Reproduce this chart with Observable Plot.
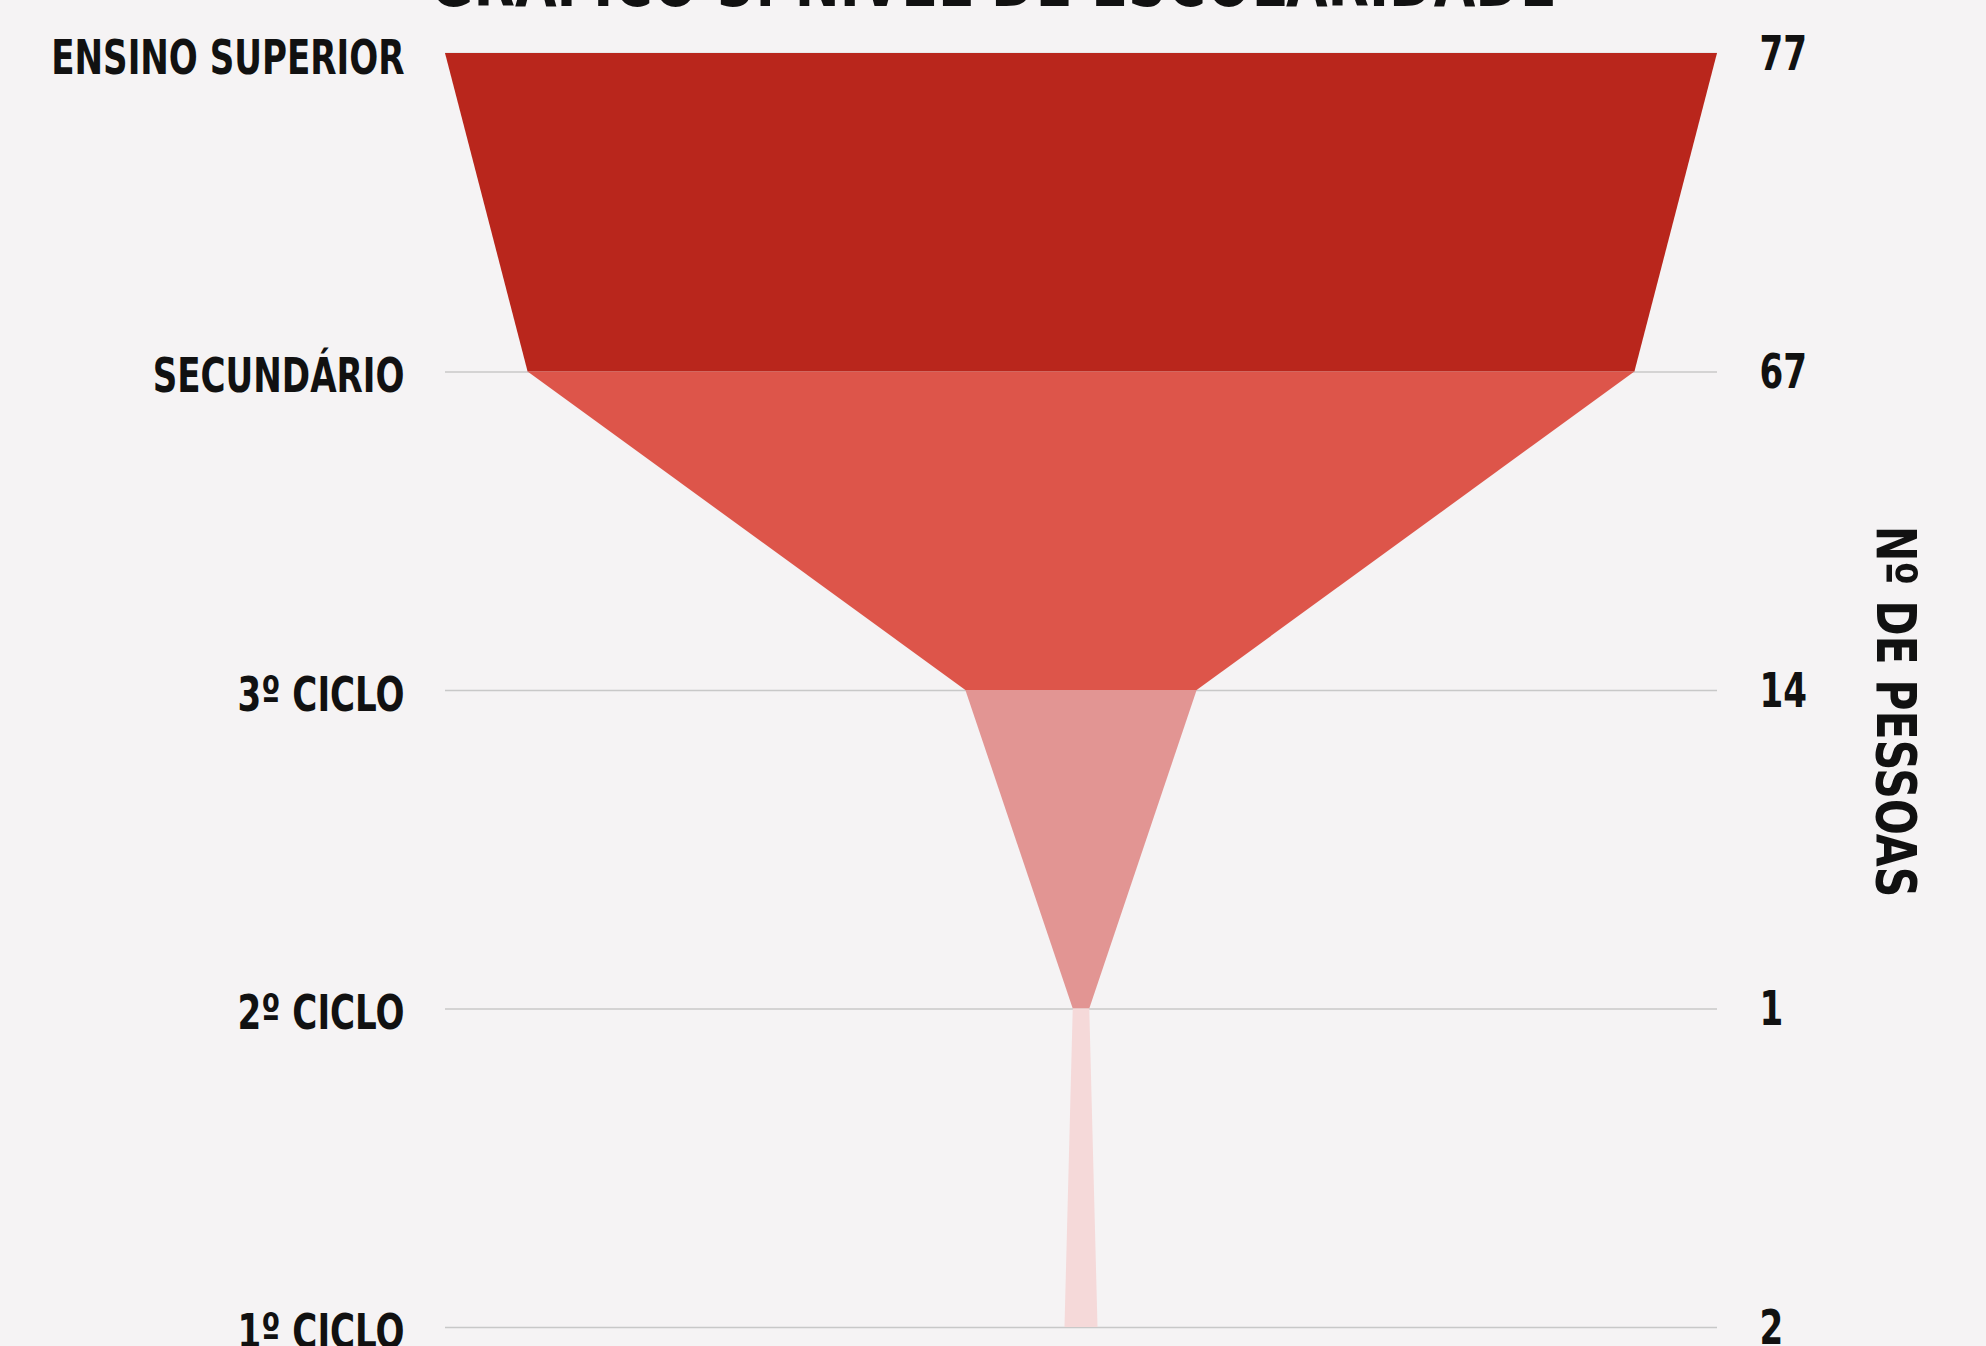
<!DOCTYPE html>
<html>
<head>
<meta charset="utf-8">
<script src="https://cdn.jsdelivr.net/npm/d3@7"></script>
<script src="https://cdn.jsdelivr.net/npm/@observablehq/plot@0.6"></script>
<style>
  html, body { margin: 0; padding: 0; background: #F5F3F4; overflow: hidden; }
  #wrap { position: relative; width: 1986px; height: 1346px; overflow: hidden; }
  #title {
    position: absolute; left: 0; top: -55px; width: 1986px; text-align: center;
    font-family: "DejaVu Sans Condensed", "DejaVu Sans", sans-serif;
    font-weight: bold; font-size: 72px; line-height: 1; color: #111;
  }
  #title span { display: inline-block; transform: scaleX(0.83); transform-origin: center; white-space: nowrap; }
  #chart { position: absolute; left: 0; top: 0; }
</style>
</head>
<body>
<div id="wrap">
  <div id="chart"></div>
  <div id="title"><span>GRÁFICO 3: NÍVEL DE ESCOLARIDADE</span></div>
</div>
<script>
const niveis = ["ENSINO SUPERIOR", "SECUNDÁRIO", "3º CICLO", "2º CICLO", "1º CICLO"];
const pessoas = [77, 67, 14, 1, 2];
const cores = ["#B9261C", "#DD554A", "#E29593", "#F5D9D9"];
const eixoTitulo = "Nº DE PESSOAS";

const idx = niveis.map((_, i) => i);
const segmentos = [];
for (let i = 0; i < niveis.length - 1; i++) {
  segmentos.push({seg: niveis[i], y: i, v: pessoas[i]});
  segmentos.push({seg: niveis[i], y: i + 1, v: pessoas[i + 1]});
}
const maxV = d3.max(pessoas);

const font = '"DejaVu Sans Condensed", "DejaVu Sans", sans-serif';

const chart = Plot.plot({
  width: 1986,
  height: 1380,
  marginTop: 53,
  marginBottom: 53,
  marginLeft: 445,
  marginRight: 269,
  style: {background: "transparent", fontFamily: font, fontSize: "48px", fontWeight: "bold", color: "#111"},
  x: {domain: [-maxV / 2, maxV / 2], axis: null},
  y: {domain: [0, niveis.length - 1], reverse: true, axis: null},
  color: {type: "ordinal", domain: niveis.slice(0, 4), range: cores},
  marks: [
    Plot.ruleY(idx, {y: d => d, stroke: "#C8C8C8", strokeWidth: 1.5}),
    Plot.areaX(segmentos, {
      y: "y",
      x1: d => -d.v / 2,
      x2: d => d.v / 2,
      z: "seg",
      fill: "seg",
      curve: "linear"
    }),
    Plot.axisY({anchor: "left", ticks: idx, tickFormat: i => niveis[i], tickSize: 0, tickPadding: 41, dy: 5, label: null, fontSize: 48, fontWeight: "bold"}),
    Plot.axisY({anchor: "right", ticks: idx, tickFormat: i => String(pessoas[i]), tickSize: 0, tickPadding: 42, dy: 1, label: null, fontSize: 48, fontWeight: "bold"}),
    Plot.text([eixoTitulo], {frameAnchor: "right", text: d => d, rotate: 90, textAnchor: "middle", dx: 177, dy: 21, fontSize: 56, fontWeight: "bold"})
  ]
});
document.getElementById("chart").appendChild(chart);

// condense the glyphs horizontally (closer to the reference's narrow display face)
d3.select(chart).selectAll("text").each(function () {
  const t = this.getAttribute("transform");
  if (t == null) return;
  const k = t.includes("rotate") ? 0.845 : 0.79;
  this.setAttribute("transform", t + ` scale(${k},1)`);
});
</script>
</body>
</html>
